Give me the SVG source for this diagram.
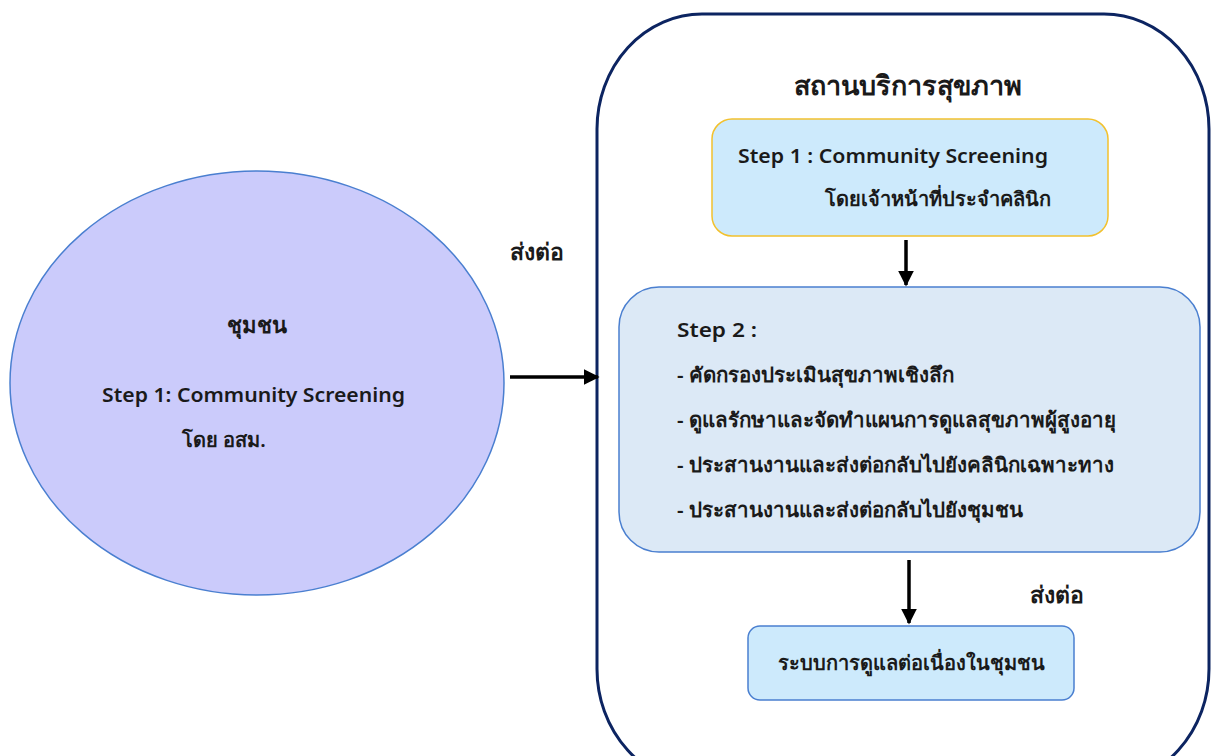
<svg xmlns="http://www.w3.org/2000/svg" width="1211" height="756" viewBox="0 0 1211 756">
  <defs>
    <marker id="arrow" viewBox="0 0 10 10" refX="9" refY="5" markerWidth="4.5" markerHeight="4.5" orient="auto" markerUnits="strokeWidth">
      <path d="M0,0 L10,5 L0,10 z" fill="#000"/>
    </marker>
    <style>
      text { font-family: "Noto Sans", "Open Sans", sans-serif; fill: #1a1a1a; font-weight: 600; }
      .t { font-size: 20px; }
      .th { font-size: 20.5px; }
      .title { font-size: 27px; font-weight: 700; }
      .label { font-size: 23px; }
      .conn { stroke: #000; stroke-width: 3.5; fill: none; marker-end: url(#arrow); }
    </style>
  </defs>

  <rect width="1211" height="756" fill="#fff"/>

  <!-- health facility container -->
  <g id="facility">
    <rect x="597" y="14" width="612" height="770" rx="105" ry="115" fill="#fff" stroke="#0c2461" stroke-width="3"/>
    <text class="title" x="908" y="95" text-anchor="middle">สถานบริการสุขภาพ</text>
  </g>

  <!-- community ellipse -->
  <g id="community">
    <ellipse cx="257" cy="383" rx="247" ry="212" fill="#cbcbfb" stroke="#4a7fd0" stroke-width="1.5"/>
    <text class="label" x="257" y="333" text-anchor="middle" style="font-size:22px">ชุมชน</text>
    <text class="t" x="102" y="402" textLength="303" lengthAdjust="spacingAndGlyphs">Step 1: Community Screening</text>
    <text class="t" x="182" y="447">โดย อสม.</text>
  </g>

  <!-- clinic screening -->
  <g id="step1">
    <rect x="712" y="119" width="396" height="117" rx="20" fill="#cdeafc" stroke="#f2c12e" stroke-width="1.5"/>
    <text class="t" x="738" y="163" textLength="310" lengthAdjust="spacingAndGlyphs">Step 1 : Community Screening</text>
    <text class="t" x="825" y="206">โดยเจ้าหน้าที่ประจำคลินิก</text>
  </g>

  <!-- in-depth assessment -->
  <g id="step2">
    <rect x="619" y="287" width="581" height="265" rx="40" fill="#dce9f6" stroke="#4a7fd0" stroke-width="1.5"/>
    <text class="t" x="677" y="337" textLength="80" lengthAdjust="spacingAndGlyphs">Step 2 :</text>
    <text class="th" x="677" y="382">- คัดกรองประเมินสุขภาพเชิงลึก</text>
    <text class="th" x="677" y="427">- ดูแลรักษาและจัดทำแผนการดูแลสุขภาพผู้สูงอายุ</text>
    <text class="th" x="677" y="472">- ประสานงานและส่งต่อกลับไปยังคลินิกเฉพาะทาง</text>
    <text class="th" x="677" y="517">- ประสานงานและส่งต่อกลับไปยังชุมชน</text>
  </g>

  <!-- continuing care in community -->
  <g id="continuing-care">
    <rect x="748" y="626" width="326" height="74" rx="12" fill="#cdeafc" stroke="#4a7fd0" stroke-width="1.5"/>
    <text class="t" x="911" y="670" text-anchor="middle">ระบบการดูแลต่อเนื่องในชุมชน</text>
  </g>

  <!-- connectors -->
  <g id="connectors">
    <line class="conn" x1="510" y1="377" x2="598" y2="377"/>
    <line class="conn" x1="906" y1="240" x2="906" y2="285"/>
    <line class="conn" x1="909" y1="560" x2="909" y2="623"/>
    <text class="label" x="510" y="260">ส่งต่อ</text>
    <text class="label" x="1030" y="603">ส่งต่อ</text>
  </g>
</svg>
